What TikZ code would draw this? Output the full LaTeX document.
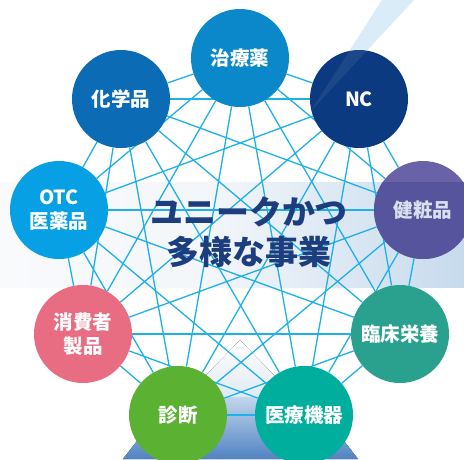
\documentclass[tikz,border=0pt]{standalone}
\usepackage{fontspec}
\setmainfont{Noto Sans CJK JP}
\definecolor{linkc}{HTML}{1EB0E8}
\definecolor{navy}{HTML}{1C3D7E}
\definecolor{bandL}{HTML}{F9FAFC}
\definecolor{bandM}{HTML}{F3F6FA}
\definecolor{bandR}{HTML}{C6DAED}
\definecolor{beamc}{HTML}{D8EBF7}
\definecolor{glowc}{HTML}{DFE9F3}
\definecolor{platT}{HTML}{C2D6EC}
\definecolor{platB}{HTML}{5083C2}
\definecolor{cA}{HTML}{0A88C9}
\definecolor{cB}{HTML}{0B3A80}
\definecolor{cC}{HTML}{6A62A8}
\definecolor{cCd}{HTML}{55549D}
\definecolor{cCt}{HTML}{D8E0EE}
\definecolor{cD}{HTML}{2AA18E}
\definecolor{cE}{HTML}{00AE9E}
\definecolor{cF}{HTML}{5BB232}
\definecolor{cG}{HTML}{E96D82}
\definecolor{cH}{HTML}{07A0E4}
\definecolor{cI}{HTML}{0C6BB5}
\pgfdeclarelayer{bg}
\pgfdeclarelayer{links}
\pgfsetlayers{bg,links,main}
\begin{document}
\begin{tikzpicture}[x=1pt,y=-1pt,
  bub/.style={circle,minimum size=98pt,inner sep=0pt,text=white,
    font=\bfseries\fontsize{19.5}{24}\selectfont,align=center},
  link/.style={draw=linkc,line width=1.3pt},
  ctext/.style={text=navy,font=\bfseries\fontsize{33}{40}\selectfont,inner sep=0pt}]
\useasboundingbox (0,0) rectangle (464,459);
\begin{pgfonlayer}{bg}
  \fill[left color=bandL,right color=bandM] (0,182) rectangle (213.5,287);
  \fill[left color=bandM,right color=bandR] (213,182) rectangle (464,287);
  \fill[beamc] (382,0) -- (414,0) -- (310,112) -- cycle;
  \fill[top color=white,bottom color=glowc] (240,340) -- (296,398) -- (184,398) -- cycle;
  \fill[top color=platT,bottom color=platB] (171,397) -- (310,397) -- (358,459) -- (123,459) -- cycle;
\end{pgfonlayer}
\node[bub,fill=cA] (c1) at (240,58) {治療薬};
\node[bub,fill=cB] (c2) at (359,99) {NC};
\node[bub,fill=cC,text=cCt,path picture={\fill[cCd]
   ([xshift=-60pt,yshift=28pt]path picture bounding box.center) rectangle
   ([xshift=60pt,yshift=-60pt]path picture bounding box.center);}] (c3) at (423,210) {健粧品};
\node[bub,fill=cD] (c4) at (400,334) {臨床栄養};
\node[bub,fill=cE] (c5) at (304,415) {医療機器};
\node[bub,fill=cF] (c6) at (178,415) {診断};
\node[bub,fill=cG] (c7) at (83,334) {消費者\\製品};
\node[bub,fill=cH] (c8) at (59,210) {OTC\\医薬品};
\node[bub,fill=cI] (c9) at (121,99) {化学品};
\begin{pgfonlayer}{links}
  \foreach \i in {1,...,8}{
    \pgfmathtruncatemacro\k{\i+1}
    \foreach \j in {\k,...,9}{
      \draw[link] (c\i) -- (c\j);
    }
  }
\end{pgfonlayer}
\fill[white,fill opacity=0.07] (382,0) -- (414,0) -- (310,112) -- cycle;
\node[ctext] (t1) at (249,212) {ユニークかつ};
\node[ctext] (t2) at (249,252) {多様な事業};
\end{tikzpicture}
\end{document}
